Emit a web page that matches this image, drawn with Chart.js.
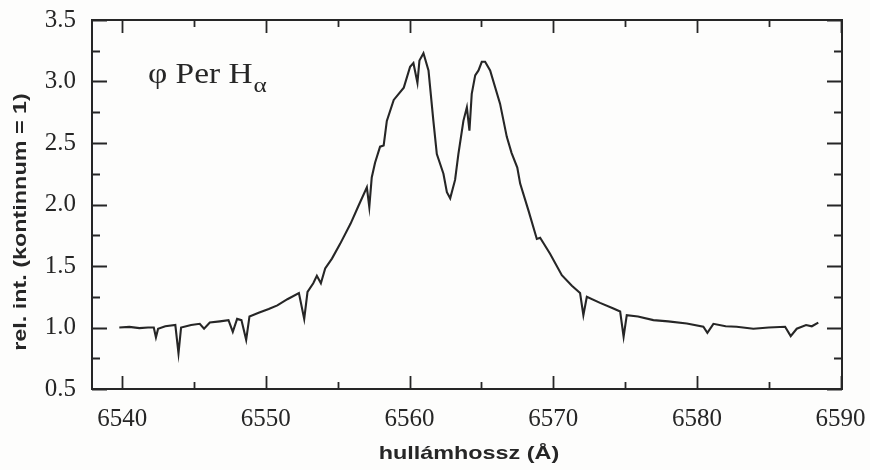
<!DOCTYPE html>
<html lang="hu">
<head>
<meta charset="utf-8">
<title>phi Per H-alpha</title>
<script src="https://cdn.jsdelivr.net/npm/chart.js@4.4.1/dist/chart.umd.min.js"></script>
<style>
    html, body { margin: 0; padding: 0; background: #fdfdfc; }
    #wrap { width: 870px; height: 470px; position: relative; }
</style>
</head>
<body>
<div id="wrap"><canvas id="spectrum"></canvas></div>
<script>
// ============================================
// DATA
// ============================================

// Wavelength (Angstrom) of each sample
const wavelength = [
    6539.8, 6540.5, 6541.2, 6541.8, 6542.2, 6542.35, 6542.5, 6543.0, 6543.7, 6543.92,
    6544.1, 6544.8, 6545.4, 6545.7, 6546.1, 6546.8, 6547.4, 6547.7, 6548.0, 6548.3,
    6548.63, 6548.86, 6549.5, 6550.2, 6550.8, 6551.5, 6552.3, 6552.67, 6552.9, 6553.3,
    6553.55, 6553.83, 6554.13, 6554.6, 6555.17, 6555.9, 6556.45, 6557.03, 6557.2, 6557.37,
    6557.6, 6557.95, 6558.2, 6558.42, 6558.9, 6559.6, 6560.04, 6560.27, 6560.55, 6560.69,
    6560.97, 6561.32, 6561.66, 6561.9, 6562.36, 6562.6, 6562.83, 6563.17, 6563.4, 6563.75,
    6563.99, 6564.17, 6564.33, 6564.57, 6564.8, 6565.03, 6565.26, 6565.61, 6566.3, 6566.77,
    6567.1, 6567.5, 6567.7, 6568.28, 6568.86, 6569.09, 6569.78, 6570.6, 6571.3, 6571.87,
    6572.1, 6572.34, 6573.26, 6574.19, 6574.66, 6574.9, 6575.12, 6575.9, 6576.97, 6578.0,
    6579.3, 6580.45, 6580.73, 6581.15, 6582.0, 6582.77, 6583.93, 6585.0, 6586.14, 6586.53,
    6586.95, 6587.6, 6588.0, 6588.45
];

// Relative intensity (continuum = 1) at each wavelength
const intensity = [
    1.00, 1.005, 0.995, 1.00, 1.00, 0.92, 0.99, 1.01, 1.02, 0.79,
    1.00, 1.02, 1.03, 0.99, 1.04, 1.05, 1.06, 0.965, 1.07, 1.06,
    0.90, 1.09, 1.12, 1.15, 1.18, 1.23, 1.28, 1.07, 1.29, 1.36,
    1.42, 1.36, 1.48, 1.56, 1.68, 1.845, 1.99, 2.14, 1.98, 2.22,
    2.34, 2.47, 2.48, 2.68, 2.85, 2.95, 3.12, 3.15, 2.99, 3.17,
    3.23, 3.09, 2.68, 2.41, 2.25, 2.10, 2.05, 2.20, 2.41, 2.68,
    2.79, 2.60, 2.90, 3.05, 3.09, 3.16, 3.16, 3.09, 2.82, 2.55,
    2.42, 2.30, 2.17, 1.95, 1.72, 1.73, 1.60, 1.425, 1.34, 1.28,
    1.10, 1.25, 1.20, 1.155, 1.13, 0.925, 1.10, 1.09, 1.06, 1.05,
    1.033, 1.006, 0.957, 1.03, 1.01, 1.006, 0.99, 1.00, 1.006, 0.93,
    0.99, 1.02, 1.01, 1.04
];

// Tick values
const xLabelTicks = [6540, 6550, 6560, 6570, 6580, 6590];
const xMinorTicks = [6545, 6555, 6565, 6575, 6585];
const yLabelTicks = [0.5, 1.0, 1.5, 2.0, 2.5, 3.0, 3.5];
const yMinorTicks = [0.75, 1.25, 1.75, 2.25, 2.75, 3.25];

// Text
const xTitle = 'hullámhossz (Å)';
const yTitle = 'rel. int. (kontinnum = 1)';
const starName = 'φ Per H';
const lineName = 'α';

// ============================================
// STYLE
// ============================================

const INK = '#262626';
const SERIF = '"Liberation Serif", "Times New Roman", serif';
const SANS = '"Liberation Sans", Arial, sans-serif';
const TEXT_STRETCH = 1.23;   // titles in the original are drawn wide

// ============================================
// PLUGINS
// ============================================

/**
 * Draws the box round the plot and the inward tick marks on all four sides
 */
const frameTicksPlugin = {
    id: 'frameTicks',
    afterDatasetsDraw(chart) {
        const { ctx, chartArea: a, scales } = chart;
        const xs = scales.x;
        const ys = scales.y;

        ctx.save();
        ctx.strokeStyle = INK;
        ctx.lineWidth = 2;
        ctx.strokeRect(a.left, a.top, a.right - a.left, a.bottom - a.top);

        ctx.lineWidth = 1.8;
        ctx.beginPath();
        const xTick = (v, len) => {
            const px = Math.round(xs.getPixelForValue(v)) + 0.5;
            ctx.moveTo(px, a.bottom); ctx.lineTo(px, a.bottom - len);
            ctx.moveTo(px, a.top); ctx.lineTo(px, a.top + len);
        };
        const yTick = (v, len) => {
            const py = Math.round(ys.getPixelForValue(v)) + 0.5;
            ctx.moveTo(a.left, py); ctx.lineTo(a.left + len, py);
            ctx.moveTo(a.right, py); ctx.lineTo(a.right - len, py);
        };
        xLabelTicks.forEach(v => xTick(v, 13));
        xMinorTicks.forEach(v => xTick(v, 7));
        yLabelTicks.forEach(v => yTick(v, 15));
        yMinorTicks.forEach(v => yTick(v, 8));
        ctx.stroke();
        ctx.restore();
    }
};

/**
 * Axis titles and the star label
 */
const labelsPlugin = {
    id: 'labels',
    afterDraw(chart) {
        const { ctx, chartArea: a } = chart;
        ctx.save();
        ctx.fillStyle = INK;

        // x title
        ctx.save();
        ctx.translate((a.left + a.right) / 2 + 2, 459);
        ctx.scale(TEXT_STRETCH, 1);
        ctx.font = 'bold 19px ' + SANS;
        ctx.textAlign = 'center';
        ctx.textBaseline = 'alphabetic';
        ctx.fillText(xTitle, 0, 0);
        ctx.restore();

        // y title
        ctx.save();
        ctx.translate(26, 222);
        ctx.rotate(-Math.PI / 2);
        ctx.scale(TEXT_STRETCH, 1);
        ctx.font = 'bold 19px ' + SANS;
        ctx.textAlign = 'center';
        ctx.textBaseline = 'alphabetic';
        ctx.fillText(yTitle, 0, 0);
        ctx.restore();

        // phi Per H-alpha
        ctx.save();
        ctx.translate(148, 83);
        ctx.scale(1.15, 1);
        ctx.font = '29px ' + SERIF;
        ctx.textAlign = 'left';
        ctx.textBaseline = 'alphabetic';
        ctx.fillText(starName, 0, 0);
        const w = ctx.measureText(starName).width;
        ctx.font = '22px ' + SERIF;
        ctx.fillText(lineName, w + 1, 9);
        ctx.restore();

        ctx.restore();
    }
};

// ============================================
// CHART
// ============================================

function buildPoints() {
    return wavelength.map((x, i) => ({ x: x, y: intensity[i] }));
}

// Remove the extra room Chart.js keeps for half labels at the ends
function clearLabelPadding(scale) {
    scale.paddingLeft = 0;
    scale.paddingRight = 0;
    scale.paddingTop = 0;
    scale.paddingBottom = 0;
}

function createSpectrumChart(canvasId) {
    const canvas = document.getElementById(canvasId);
    const ctx = canvas.getContext('2d');

    return new Chart(ctx, {
        type: 'line',
        data: {
            datasets: [{
                label: starName + lineName,
                data: buildPoints(),
                borderColor: INK,
                borderWidth: 2.1,
                pointRadius: 0,
                tension: 0,
                fill: false
            }]
        },
        options: {
            responsive: true,
            maintainAspectRatio: false,
            animation: false,
            layout: { padding: { top: 20, right: 28, left: 0, bottom: 0 } },
            plugins: {
                legend: { display: false },
                tooltip: { enabled: false }
            },
            scales: {
                x: {
                    type: 'linear',
                    min: 6537.9,
                    max: 6590.1,
                    grid: { display: false },
                    border: { display: false },
                    afterBuildTicks: (scale) => {
                        scale.ticks = xLabelTicks.map(v => ({ value: v }));
                    },
                    afterFit: (scale) => {
                        scale.height = 81;
                        clearLabelPadding(scale);
                    },
                    ticks: {
                        padding: 7,
                        color: INK,
                        maxRotation: 0,
                        font: { family: SERIF, size: 25 },
                        callback: (v) => String(v)
                    }
                },
                y: {
                    type: 'linear',
                    min: 0.5,
                    max: 3.5,
                    grid: { display: false },
                    border: { display: false },
                    afterBuildTicks: (scale) => {
                        scale.ticks = yLabelTicks.map(v => ({ value: v }));
                    },
                    afterFit: (scale) => {
                        scale.width = 92;
                        clearLabelPadding(scale);
                    },
                    ticks: {
                        padding: 8,
                        color: INK,
                        font: { family: SERIF, size: 25 },
                        callback: (v) => Number(v).toFixed(1)
                    }
                }
            }
        },
        plugins: [frameTicksPlugin, labelsPlugin]
    });
}

createSpectrumChart('spectrum');
</script>
</body>
</html>
